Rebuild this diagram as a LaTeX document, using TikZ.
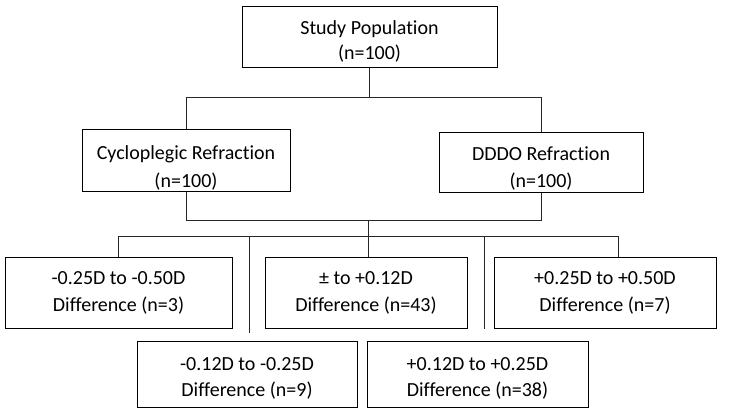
\documentclass[tikz,border=0pt]{standalone}
\usepackage{fontspec}
\setmainfont[Ligatures = NoCommon]{Carlito}

% strut that pushes the first line of a box down
\newcommand{\topstrut}[1]{\rule{0pt}{#1}}

\begin{document}
\begin{tikzpicture}[x = 1pt, y = -1pt,
	box/.style = {draw, line width = 1pt, align = center, inner sep = 0pt,
		font = \fontsize{20}{25}\selectfont},
	link/.style = {draw = black!85, line width = 0.9pt}]

	\useasboundingbox (0, 0) rectangle (746, 419);

	% The boxes

	\node [box, minimum width = 255, minimum height = 61] (study) at (369.5, 37.5)
		{\topstrut{22pt}Study Population\\(n=100)};

	\node [box, minimum width = 208, minimum height = 62] (cyclo) at (186, 161)
		{\topstrut{28pt}Cycloplegic Refraction\\[3pt](n=100)};
	\node [box, minimum width = 204, minimum height = 60] (dddo) at (541, 163)
		{\topstrut{24pt}DDDO Refraction\\[2pt](n=100)};

	\node [box, minimum width = 227, minimum height = 70] (minusfar) at (118.5, 293)
		{-0.25D to -0.50D\\[2pt]Difference (n=3)};
	\node [box, minimum width = 202, minimum height = 70] (zero) at (366, 293)
		{± to +0.12D\\[2pt]Difference (n=43)};
	\node [box, minimum width = 222, minimum height = 70] (plusfar) at (605, 293)
		{+0.25D to +0.50D\\[2pt]Difference (n=7)};

	\node [box, minimum width = 220, minimum height = 66] (minusnear) at (247, 374)
		{\topstrut{22pt}-0.12D to -0.25D\\[1pt]Difference (n=9)};
	\node [box, minimum width = 221, minimum height = 66] (plusnear) at (477.5, 374)
		{\topstrut{22pt}+0.12D to +0.25D\\[1pt]Difference (n=38)};

	% Junction points

	\coordinate (split) at (369.5, 97);
	\coordinate (merge) at (368, 220);
	\coordinate (fan) at (368, 236);
	\coordinate (fanright) at (618, 236);
	\coordinate (dropleft) at (249, 236);
	\coordinate (dropleftend) at (249, 333);
	\coordinate (dropright) at (484, 236);
	\coordinate (droprightend) at (484, 329);

	% Study population to the two refractions

	\begin{scope}[link]

		\draw (study.south) -- (split);
		\draw (cyclo.north) -- (cyclo.north |- split) -- (dddo.north |- split) -- (dddo.north);

		% Refractions joined, then fanned out

		\draw (cyclo.south) -- (cyclo.south |- merge) -- (dddo.south |- merge) -- (dddo.south);
		\draw (merge) -- (fan);
		\draw (minusfar.north) -- (minusfar.north |- fan) -- (fanright) -- (fanright |- plusfar.north);
		\draw (fan) -- (fan |- zero.north);
		\draw (dropleft) -- (dropleftend);
		\draw (dropright) -- (droprightend);

	\end{scope}

\end{tikzpicture}
\end{document}
